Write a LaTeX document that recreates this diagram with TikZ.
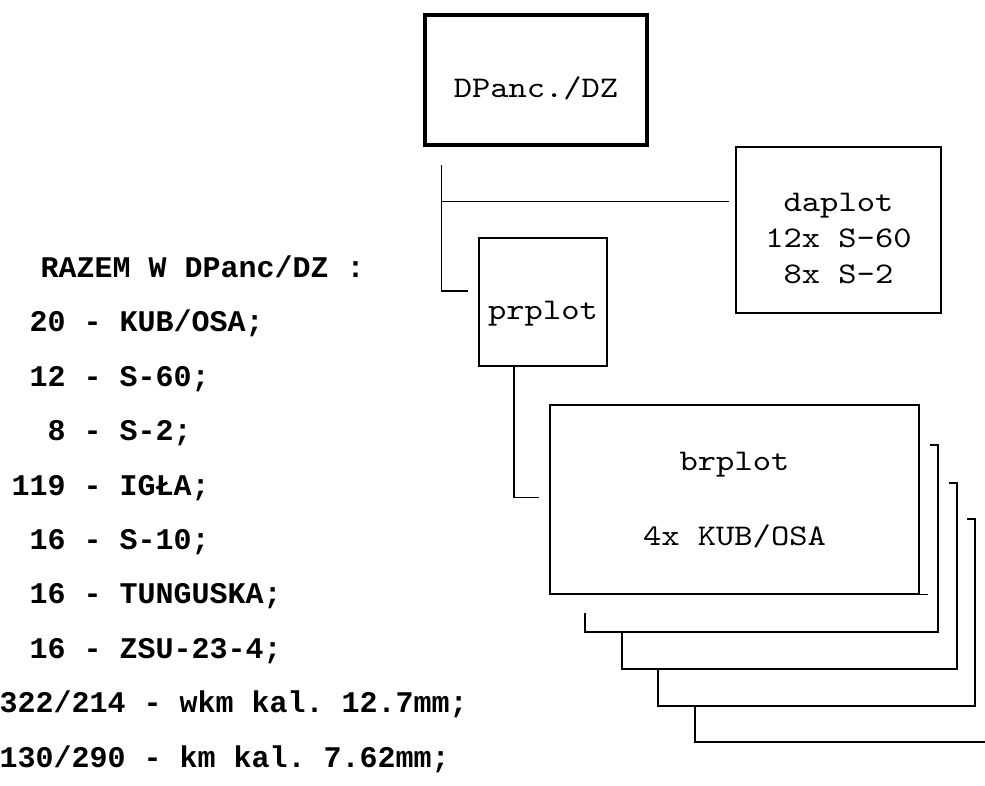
\documentclass[tikz,border=0pt]{standalone}
\usepackage{fontspec}
\setmonofont{Liberation Mono}
\newfontfamily\typer{lmmono10-regular}[Extension=.otf, FakeStretch=1.16]
\frenchspacing

\begin{document}
\begin{tikzpicture}[x=1pt, y=-1pt, line width=1.3pt, every node/.style={font=\typer\fontsize{30}{36}\selectfont}, unit/.style={draw, align=center, inner sep=0pt, text height=34pt, text depth=0pt}, total/.style={anchor=base west, inner sep=0pt, font=\ttfamily\bfseries\fontsize{30}{36}\selectfont}]
	\useasboundingbox (0,0) rectangle (985,785);
	\node[unit, line width=3.5pt, minimum width=222pt, minimum height=130pt] (dpanc) at (536,80) {DPanc./DZ};
	\node[unit, minimum width=205pt, minimum height=166pt, text height=106pt] (daplot) at (838.5,230) {daplot\\12x S-60\\8x S-2};
	\node[unit, minimum width=128pt, minimum height=128pt] (prplot) at (543,302) {prplot};
	\node[unit, minimum width=369pt, minimum height=189pt, text height=91pt] (brplot) at (734.5,499.5) {brplot\\[39pt]4x KUB/OSA};
	\coordinate (fork) at ([xshift=18pt,yshift=-55pt]dpanc.south west);
	\draw ([xshift=18pt,yshift=-18pt]dpanc.south west) |- ([xshift=-10pt,yshift=11pt]prplot.west);
	\draw (fork) -- ([xshift=-6pt]daplot.west |- fork);
	\draw ([xshift=-29pt]prplot.south) |- ([xshift=-10pt,yshift=2pt]brplot.west);
	% stacked copies behind brplot
	\draw (brplot.south east) -- ++(8,0);
	\foreach \l/\t/\r/\b/\s in {585/445/938/632/613, 622/483/957/669/632, 658/519/975/706/669, 695/557/993/742/706}
		\draw (\r-8,\t) -- (\r,\t) -- (\r,\b) -- (\l,\b) -- (\l,\s);
	% totals
	\node[total] (sum) at (40,277) {RAZEM W DPanc/DZ :};
	\node[total] (kub) at (29,331) {20 - KUB/OSA;};
	\node[total] (s60) at (29,386) {12 - S-60;};
	\node[total] (s2) at (47,440) {8 - S-2;};
	\node[total] (igla) at (11,495) {119 - IGŁA;};
	\node[total] (s10) at (29,549) {16 - S-10;};
	\node[total] (tung) at (29,603) {16 - TUNGUSKA;};
	\node[total] (zsu) at (29,658) {16 - ZSU-23-4;};
	\node[total] (wkm) at (-1,712) {322/214 - wkm kal. 12.7mm;};
	\node[total] (km) at (-1,767) {130/290 - km kal. 7.62mm;};
\end{tikzpicture}
\end{document}
